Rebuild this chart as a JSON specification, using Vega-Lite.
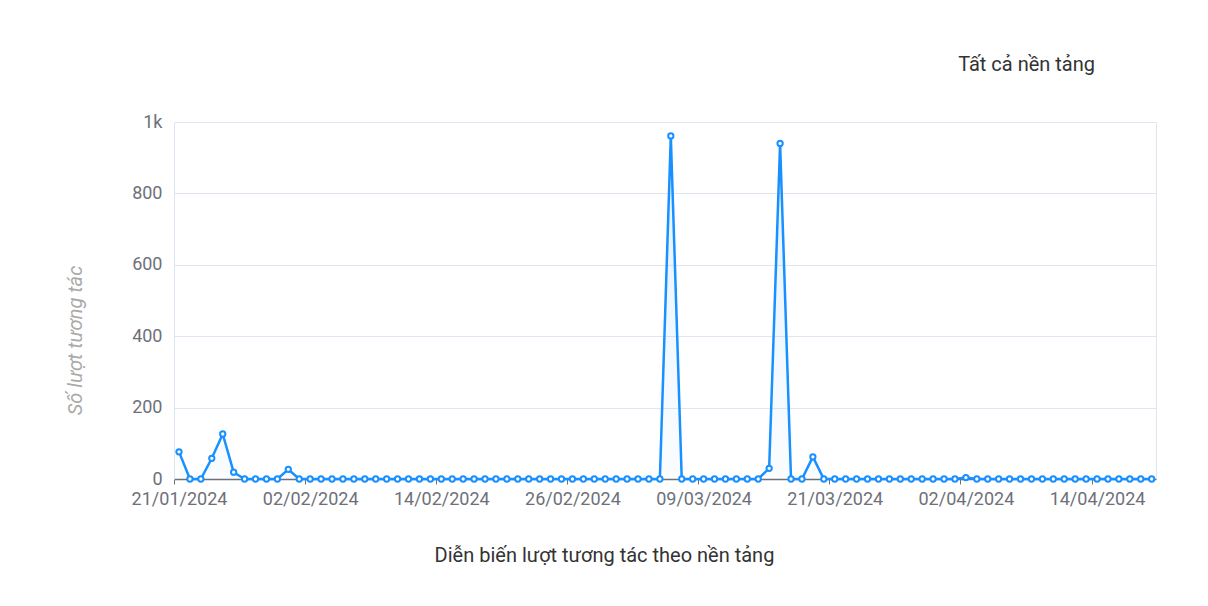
{
  "$schema": "https://vega.github.io/schema/vega-lite/v6.json",
  "width": 982,
  "height": 357,
  "autosize": "none",
  "padding": {"left": 174, "top": 122, "right": 52, "bottom": 127},
  "background": "#ffffff",
  "config": {
    "font": "Roboto",
    "view": {"stroke": "#e0e6f1", "strokeWidth": 1}
  },
  "title": {
    "text": "Tất cả nền tảng",
    "anchor": "end",
    "frame": "group",
    "dx": -61,
    "offset": 38,
    "fontSize": 20,
    "fontWeight": "normal",
    "color": "#333333",
    "font": "Roboto"
  },
  "data": {
    "values": [
      {"date": "2024-01-21", "value": 76},
      {"date": "2024-01-22", "value": 0},
      {"date": "2024-01-23", "value": 0},
      {"date": "2024-01-24", "value": 58},
      {"date": "2024-01-25", "value": 126},
      {"date": "2024-01-26", "value": 19},
      {"date": "2024-01-27", "value": 0},
      {"date": "2024-01-28", "value": 0},
      {"date": "2024-01-29", "value": 0},
      {"date": "2024-01-30", "value": 0},
      {"date": "2024-01-31", "value": 27},
      {"date": "2024-02-01", "value": 0},
      {"date": "2024-02-02", "value": 0},
      {"date": "2024-02-03", "value": 0},
      {"date": "2024-02-04", "value": 0},
      {"date": "2024-02-05", "value": 0},
      {"date": "2024-02-06", "value": 0},
      {"date": "2024-02-07", "value": 0},
      {"date": "2024-02-08", "value": 0},
      {"date": "2024-02-09", "value": 0},
      {"date": "2024-02-10", "value": 0},
      {"date": "2024-02-11", "value": 0},
      {"date": "2024-02-12", "value": 0},
      {"date": "2024-02-13", "value": 0},
      {"date": "2024-02-14", "value": 0},
      {"date": "2024-02-15", "value": 0},
      {"date": "2024-02-16", "value": 0},
      {"date": "2024-02-17", "value": 0},
      {"date": "2024-02-18", "value": 0},
      {"date": "2024-02-19", "value": 0},
      {"date": "2024-02-20", "value": 0},
      {"date": "2024-02-21", "value": 0},
      {"date": "2024-02-22", "value": 0},
      {"date": "2024-02-23", "value": 0},
      {"date": "2024-02-24", "value": 0},
      {"date": "2024-02-25", "value": 0},
      {"date": "2024-02-26", "value": 0},
      {"date": "2024-02-27", "value": 0},
      {"date": "2024-02-28", "value": 0},
      {"date": "2024-02-29", "value": 0},
      {"date": "2024-03-01", "value": 0},
      {"date": "2024-03-02", "value": 0},
      {"date": "2024-03-03", "value": 0},
      {"date": "2024-03-04", "value": 0},
      {"date": "2024-03-05", "value": 0},
      {"date": "2024-03-06", "value": 961},
      {"date": "2024-03-07", "value": 0},
      {"date": "2024-03-08", "value": 0},
      {"date": "2024-03-09", "value": 0},
      {"date": "2024-03-10", "value": 0},
      {"date": "2024-03-11", "value": 0},
      {"date": "2024-03-12", "value": 0},
      {"date": "2024-03-13", "value": 0},
      {"date": "2024-03-14", "value": 0},
      {"date": "2024-03-15", "value": 30},
      {"date": "2024-03-16", "value": 940},
      {"date": "2024-03-17", "value": 0},
      {"date": "2024-03-18", "value": 0},
      {"date": "2024-03-19", "value": 62},
      {"date": "2024-03-20", "value": 0},
      {"date": "2024-03-21", "value": 0},
      {"date": "2024-03-22", "value": 0},
      {"date": "2024-03-23", "value": 0},
      {"date": "2024-03-24", "value": 0},
      {"date": "2024-03-25", "value": 0},
      {"date": "2024-03-26", "value": 0},
      {"date": "2024-03-27", "value": 0},
      {"date": "2024-03-28", "value": 0},
      {"date": "2024-03-29", "value": 0},
      {"date": "2024-03-30", "value": 0},
      {"date": "2024-03-31", "value": 0},
      {"date": "2024-04-01", "value": 0},
      {"date": "2024-04-02", "value": 4},
      {"date": "2024-04-03", "value": 0},
      {"date": "2024-04-04", "value": 0},
      {"date": "2024-04-05", "value": 0},
      {"date": "2024-04-06", "value": 0},
      {"date": "2024-04-07", "value": 0},
      {"date": "2024-04-08", "value": 0},
      {"date": "2024-04-09", "value": 0},
      {"date": "2024-04-10", "value": 0},
      {"date": "2024-04-11", "value": 0},
      {"date": "2024-04-12", "value": 0},
      {"date": "2024-04-13", "value": 0},
      {"date": "2024-04-14", "value": 0},
      {"date": "2024-04-15", "value": 0},
      {"date": "2024-04-16", "value": 0},
      {"date": "2024-04-17", "value": 0},
      {"date": "2024-04-18", "value": 0},
      {"date": "2024-04-19", "value": 0}
    ]
  },
  "encoding": {
    "x": {
      "field": "date",
      "type": "temporal",
      "scale": {
        "type": "utc",
        "domain": [
          {"year": 2024, "month": 1, "date": 20, "hours": 13, "utc": true},
          {"year": 2024, "month": 4, "date": 19, "hours": 9, "minutes": 30, "utc": true}
        ]
      },
      "axis": {
        "values": [
          {"year": 2024, "month": 1, "date": 21, "utc": true},
          {"year": 2024, "month": 2, "date": 2, "utc": true},
          {"year": 2024, "month": 2, "date": 14, "utc": true},
          {"year": 2024, "month": 2, "date": 26, "utc": true},
          {"year": 2024, "month": 3, "date": 9, "utc": true},
          {"year": 2024, "month": 3, "date": 21, "utc": true},
          {"year": 2024, "month": 4, "date": 2, "utc": true},
          {"year": 2024, "month": 4, "date": 14, "utc": true}
        ],
        "format": "%d/%m/%Y",
        "grid": false,
        "domainColor": "#6e7079",
        "domainWidth": 1.5,
        "tickColor": "#6e7079",
        "tickSize": 5,
        "tickOffset": -5.5,
        "labelOffset": 5.5,
        "labelColor": "#6e7079",
        "labelFontSize": 18,
        "labelPadding": 6,
        "labelFlush": false,
        "title": "Diễn biến lượt tương tác theo nền tảng",
        "titleFontSize": 20,
        "titleFontWeight": "normal",
        "titleColor": "#333333",
        "titlePadding": 37,
        "titleX": 430,
        "titleAnchor": "middle",
        "titleAlign": "center"
      }
    },
    "y": {
      "field": "value",
      "type": "quantitative",
      "scale": {"domain": [0, 1000], "nice": false},
      "axis": {
        "values": [0, 200, 400, 600, 800, 1000],
        "labelExpr": "datum.value == 1000 ? '1k' : datum.label",
        "format": "d",
        "gridColor": "#e0e6f1",
        "gridWidth": 1,
        "domainColor": "#e0e6f1",
        "ticks": false,
        "labelColor": "#6e7079",
        "labelFontSize": 18,
        "labelPadding": 12,
        "title": "Số lượt tương tác",
        "titleFontSize": 20,
        "titleFontStyle": "italic",
        "titleFontWeight": "normal",
        "titleColor": "#aaaaaa",
        "titlePadding": 46,
        "titleY": 218,
        "titleAlign": "center"
      }
    }
  },
  "layer": [
    {
      "mark": {
        "type": "area",
        "color": {
          "gradient": "linear",
          "x1": 0, "y1": 0, "x2": 0, "y2": 1,
          "stops": [
            {"offset": 0, "color": "rgba(24,144,255,0.12)"},
            {"offset": 1, "color": "rgba(24,144,255,0.02)"}
          ]
        }
      }
    },
    {
      "mark": {"type": "line", "color": "#1890ff", "strokeWidth": 2.5}
    },
    {
      "mark": {
        "type": "point",
        "shape": "circle",
        "filled": true,
        "fill": "#ffffff",
        "stroke": "#1890ff",
        "strokeWidth": 2,
        "size": 28,
        "opacity": 1
      }
    }
  ]
}
